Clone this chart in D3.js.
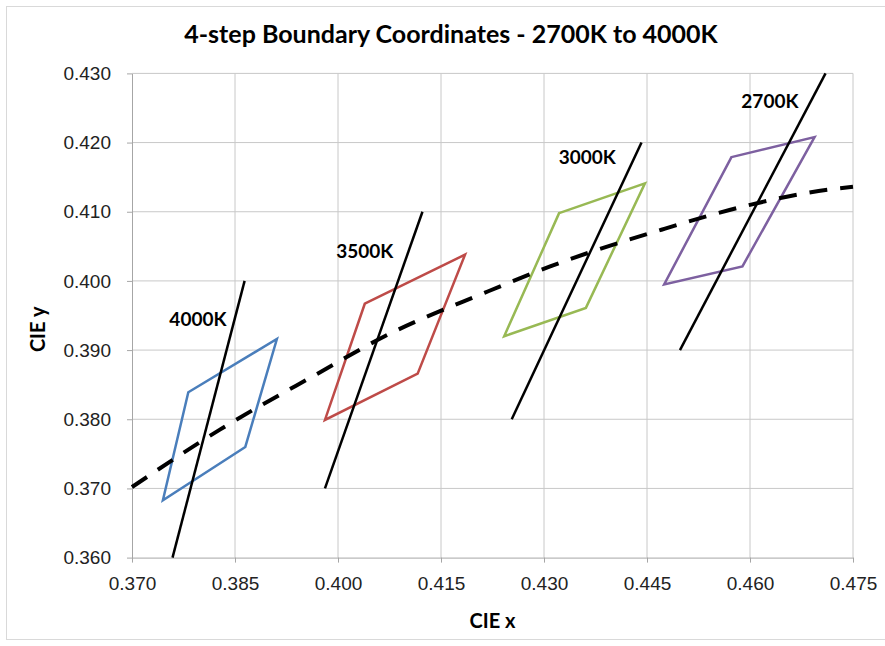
<!DOCTYPE html>
<html>
<head>
<meta charset="utf-8">
<script src="https://cdn.jsdelivr.net/npm/d3@7"></script>
<style>
  body { margin: 0; background: #fff; }
  svg { font-family: Lato, "Open Sans", sans-serif; }
  .grid line { stroke: #c8c8c8; stroke-width: 1; }
  .axis path, .axis line { stroke: #a6a6a6; }
  .axis text { font-size: 19px; fill: #222; }
</style>
</head>
<body>
<div id="chart"></div>
<script>
// x/y ticks
var xTicks = [0.370, 0.385, 0.400, 0.415, 0.430, 0.445, 0.460, 0.475];
var yTicks = [0.360, 0.370, 0.380, 0.390, 0.400, 0.410, 0.420, 0.430];

// 4-step quadrangles (closed), corners TL, TR, BR, BL
var cct = ["4000K", "3500K", "3000K", "2700K"];
var quadX = [
  [0.3782, 0.3911, 0.3865, 0.3745],
  [0.4039, 0.4185, 0.4116, 0.3981],
  [0.4322, 0.4447, 0.4361, 0.4242],
  [0.4573, 0.4694, 0.4589, 0.4475]
];
var quadY = [
  [0.3839, 0.3916, 0.3760, 0.3683],
  [0.3967, 0.4038, 0.3866, 0.3799],
  [0.4098, 0.4141, 0.3961, 0.3920],
  [0.4179, 0.4208, 0.4021, 0.3995]
];
var quadColors = ["#4a7ebb", "#be4b48", "#98b954", "#7d60a0"];

// isotemperature lines (bottom, top)
var isoX = [[0.3759, 0.3864], [0.3981, 0.4123], [0.4253, 0.4442], [0.4498, 0.4710]];
var isoY = [[0.360, 0.400], [0.370, 0.410], [0.380, 0.420], [0.390, 0.430]];

// label anchor points
var labelX = [0.3796, 0.4039, 0.4363, 0.4629];
var labelY = [0.3944, 0.4043, 0.4179, 0.4260];

// blackbody locus (dashed)
var locusX = [0.370, 0.3828, 0.3974, 0.4068, 0.4214, 0.4309, 0.4471, 0.4600, 0.4714, 0.475];
var locusY = [0.3702, 0.3785, 0.3868, 0.3920, 0.3983, 0.4021, 0.4074, 0.4110, 0.4132, 0.4136];

var W = 885, H = 646;
var margin = {top: 73.4, right: 32, bottom: 88.4, left: 132};
var width = W - margin.left - margin.right,
    height = H - margin.top - margin.bottom;

var svg = d3.select("#chart").append("svg")
    .attr("width", W)
    .attr("height", H);

svg.append("rect")
    .attr("x", 6.5).attr("y", 6.5)
    .attr("width", W + 10).attr("height", H - 13)
    .attr("fill", "none")
    .attr("stroke", "#d9d9d9");

svg.append("text")
    .attr("x", 451).attr("y", 43)
    .attr("text-anchor", "middle")
    .style("font-size", "25px")
    .style("font-weight", "bold")
    .text("4-step Boundary Coordinates - 2700K to 4000K");

var g = svg.append("g")
    .attr("transform", "translate(" + margin.left + "," + margin.top + ")");

var x = d3.scaleLinear().domain([0.370, 0.475]).range([0, width]);
var y = d3.scaleLinear().domain([0.360, 0.430]).range([height, 0]);

// grid
var grid = g.append("g").attr("class", "grid");
grid.selectAll(".gx").data(xTicks.slice(1)).enter().append("line")
    .attr("x1", function (d) { return x(d); }).attr("x2", function (d) { return x(d); })
    .attr("y1", 0).attr("y2", height);
grid.selectAll(".gy").data(yTicks.slice(1)).enter().append("line")
    .attr("y1", function (d) { return y(d); }).attr("y2", function (d) { return y(d); })
    .attr("x1", 0).attr("x2", width);

g.append("g")
    .attr("class", "x axis")
    .attr("transform", "translate(0," + height + ")")
    .call(d3.axisBottom(x).tickValues(xTicks).tickFormat(d3.format(".3f")).tickSizeInner(5).tickSizeOuter(0).tickPadding(14));

g.append("g")
    .attr("class", "y axis")
    .call(d3.axisLeft(y).tickValues(yTicks).tickFormat(d3.format(".3f")).tickSizeInner(5).tickSizeOuter(0).tickPadding(16));

g.append("text")
    .attr("x", x(0.4225)).attr("y", height + 70)
    .attr("text-anchor", "middle")
    .style("font-size", "20px").style("font-weight", "bold")
    .text("CIE x");

g.append("text")
    .attr("transform", "translate(-87," + y(0.393) + ") rotate(-90)")
    .attr("text-anchor", "middle")
    .style("font-size", "20px").style("font-weight", "bold")
    .text("CIE y");

var line = d3.line()
    .x(function (d) { return x(d[0]); })
    .y(function (d) { return y(d[1]); });

// quadrangles
cct.forEach(function (name, i) {
  var pts = d3.zip(quadX[i], quadY[i]);
  g.append("path")
    .attr("d", line(pts) + "Z")
    .attr("fill", "none")
    .attr("stroke", quadColors[i])
    .attr("stroke-width", 2.5)
    .attr("stroke-linejoin", "miter");
});

// blackbody locus
g.append("path")
    .attr("d", line.curve(d3.curveMonotoneX)(d3.zip(locusX, locusY)))
    .attr("fill", "none")
    .attr("stroke", "#000")
    .attr("stroke-width", 4)
    .attr("stroke-dasharray", "18,13");
line.curve(d3.curveLinear);

// isotemperature lines
cct.forEach(function (name, i) {
  g.append("path")
    .attr("d", line(d3.zip(isoX[i], isoY[i])))
    .attr("fill", "none")
    .attr("stroke", "#000")
    .attr("stroke-width", 2.5);
});

// labels
g.selectAll(".cct-label").data(cct).enter().append("text")
    .attr("class", "cct-label")
    .attr("x", function (d, i) { return x(labelX[i]); })
    .attr("y", function (d, i) { return y(labelY[i]); })
    .attr("dy", "0.35em")
    .attr("text-anchor", "middle")
    .style("font-size", "19px")
    .style("font-weight", "bold")
    .text(function (d) { return d; });
</script>
</body>
</html>
